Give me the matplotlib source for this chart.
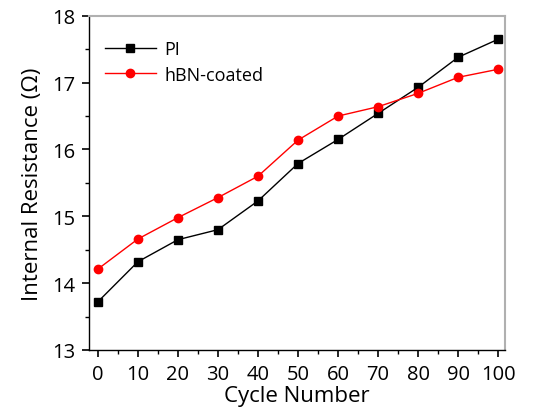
import matplotlib
matplotlib.use("Agg")
import matplotlib.pyplot as plt
from matplotlib.ticker import MultipleLocator

cycles = [0, 10, 20, 30, 40, 50, 60, 70, 80, 90, 100]
pi_vals = [13.72, 14.32, 14.65, 14.80, 15.23, 15.79, 16.15, 16.54, 16.93, 17.38, 17.65]
hbn_vals = [14.21, 14.66, 14.98, 15.28, 15.60, 16.14, 16.50, 16.64, 16.84, 17.08, 17.20]
x_ticks = [0, 10, 20, 30, 40, 50, 60, 70, 80, 90, 100]
y_ticks = [13, 14, 15, 16, 17, 18]

plt.rcParams['font.family'] = ['Open Sans', 'DejaVu Sans']

fig = plt.figure(figsize=(5.45, 4.1), dpi=100)
ax = fig.add_axes([0.163, 0.144, 0.764, 0.815])

ax.plot(cycles, pi_vals, color='black', lw=1.0, marker='s', ms=6, label='PI')
ax.plot(cycles, hbn_vals, color='red', lw=1.0, marker='o', ms=6, label='hBN-coated')

ax.set_xlim(-2.25, 101.75)
ax.set_ylim(13, 18)
ax.set_xticks(x_ticks)
ax.set_yticks(y_ticks)
ax.xaxis.set_minor_locator(MultipleLocator(5))
ax.yaxis.set_minor_locator(MultipleLocator(0.5))
ax.tick_params(which='major', direction='out', length=5, width=1.2, labelsize=14.5)
ax.tick_params(axis='x', which='major', pad=5)
ax.tick_params(axis='y', which='major', pad=5)
ax.tick_params(which='minor', direction='out', length=3, width=1.0)

for s in ['top', 'right']:
    ax.spines[s].set_color('#b0b0b0')
    ax.spines[s].set_linewidth(1.5)
for s in ['left', 'bottom']:
    ax.spines[s].set_color('black')
    ax.spines[s].set_linewidth(1.0)

ax.set_xlabel('Cycle Number', fontsize=16, labelpad=1)
ax.set_ylabel('Internal Resistance (Ω)', fontsize=16, labelpad=6)

ax.legend(loc='upper left', frameon=False, fontsize=13, handlelength=2.8,
          bbox_to_anchor=(0.0, 0.975), labelspacing=0.4, handletextpad=0.5)

fig.savefig('out.png', dpi=100)
